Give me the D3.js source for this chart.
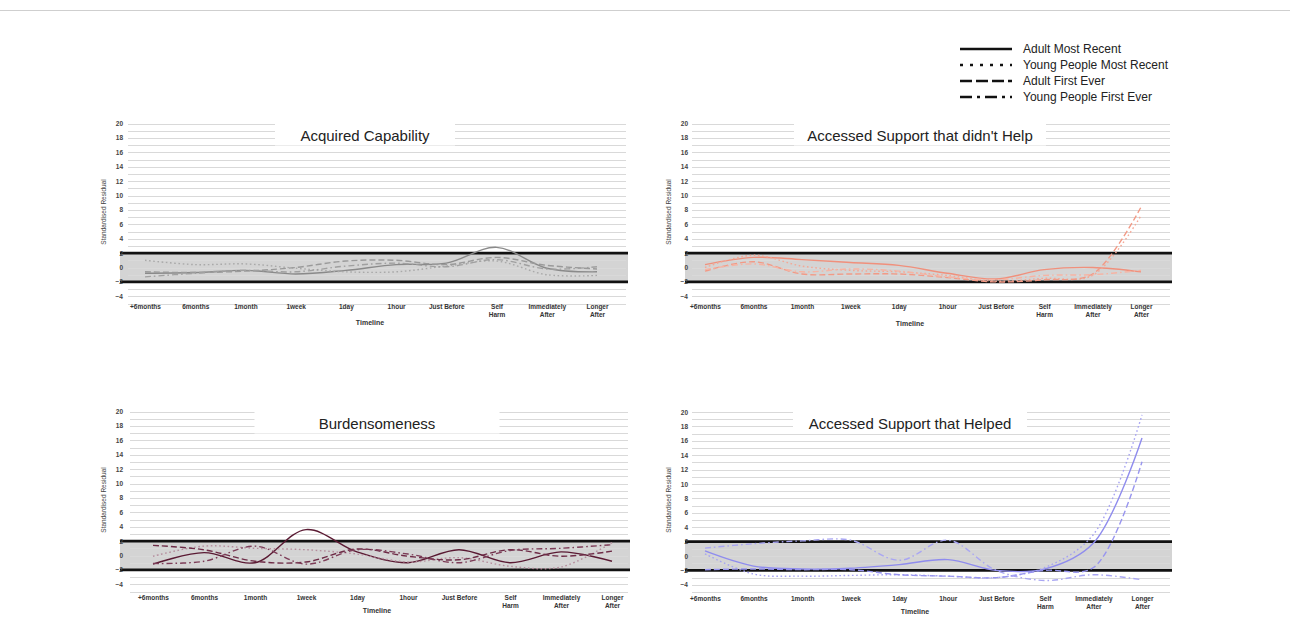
<!DOCTYPE html>
<html><head><meta charset="utf-8">
<script src="https://cdn.jsdelivr.net/npm/d3@7"></script>
<style>
body{margin:0;background:#fff}
svg{display:block}
text{font-family:"Liberation Sans",Arial,sans-serif}
</style>
</head><body>
<svg id="chart" width="1290" height="623"></svg>
<script>
// ---------- data ----------
const categories = ["+6months","6months","1month","1week","1day","1hour","Just Before","Self Harm","Immediately After","Longer After"];
const categoryLines = [["+6months"],["6months"],["1month"],["1week"],["1day"],["1hour"],["Just Before"],["Self","Harm"],["Immediately","After"],["Longer","After"]];
const seriesNames = ["Adult Most Recent","Young People Most Recent","Adult First Ever","Young People First Ever"];
const yTickValues = [-4,-2,0,2,4,6,8,10,12,14,16,18,20];
const gridValues = d3.range(-5, 21, 1);
const bandLimits = [-2, 2];

const acquiredAdultRecent   = [-0.8,-0.7,-0.4,-0.9,-0.4, 0.4, 0.6, 2.8,-0.1,-0.6];
const acquiredYoungRecent   = [ 1.0, 0.4, 0.5,-0.1,-0.6,-0.6, 0.2, 0.9,-1.0,-1.1];
const acquiredAdultFirst    = [-0.6,-0.7,-0.5, 0.0, 0.9, 1.0, 0.4, 1.4, 0.3,-0.2];
const acquiredYoungFirst    = [-1.3,-0.8,-0.4,-0.6, 0.2, 0.6, 0.1, 1.1,-0.2, 0.1];

const noHelpAdultRecent     = [ 0.4, 1.4, 1.1, 0.7, 0.3,-0.8,-1.6,-0.3, 0.0,-0.6];
const noHelpYoungRecent     = [ 0.0, 1.7, 0.2,-0.4,-0.6,-1.1,-1.9,-1.5,-1.1, 7.2];
const noHelpAdultFirst      = [-0.5, 0.8,-0.9,-0.9,-0.9,-1.4,-2.0,-1.7,-0.9, 8.4];
const noHelpYoungFirst      = [-0.3, 0.5,-0.6,-0.2,-0.5,-1.3,-1.7,-1.1,-1.0,-0.4];

const burdenAdultRecent     = [-1.2, 0.4,-1.0, 3.6, 0.5,-1.0, 0.8,-1.0, 0.5,-0.8];
const burdenYoungRecent     = [-0.1, 1.3, 1.0, 0.8, 0.2,-0.9,-0.3,-1.5,-1.6, 1.8];
const burdenAdultFirst      = [ 1.4, 0.8,-0.8,-0.9, 0.9,-0.1,-0.6, 0.8,-0.1, 0.6];
const burdenYoungFirst      = [-1.1,-0.8, 1.3,-1.2, 0.8, 0.2,-1.0, 0.7, 1.0, 1.5];

const helpedAdultRecent     = [ 0.7,-1.4,-1.8,-1.7,-1.2,-0.5,-2.0,-1.8, 1.8,16.4];
const helpedYoungRecent     = [ 0.3,-2.5,-2.8,-2.7,-2.6,-2.8,-3.0,-1.6, 3.0,19.6];
const helpedAdultFirst      = [-1.9,-1.8,-1.9,-1.9,-2.6,-2.8,-3.0,-2.0,-1.6,13.1];
const helpedYoungFirst      = [ 1.1, 1.7, 2.1, 2.2,-0.6, 2.2,-2.0,-3.4,-2.6,-3.3];

// ---------- styling / layout ----------
const dashes = [null, "1.6,2.6", "6,3", "6,3,1.6,3"];
const legendDashes = [null, "3,7", "12,4", "12,5,3,5"];

const panels = [
  {title:"Acquired Capability", series:[acquiredAdultRecent,acquiredYoungRecent,acquiredAdultFirst,acquiredYoungFirst],
   colors:["#8a8a8a","#a9a9a9","#9a9a9a","#a0a0a0"],
   yLab:123, gx0:128, gx1:626, bx0:120, bx1:628, cx0:145, cx1:597, yTop:123.5,
   tx:365, tw:180, lblY:309, tlx:370, tly:325, ytx:106, yty:212},
  {title:"Accessed Support that didn't Help", series:[noHelpAdultRecent,noHelpYoungRecent,noHelpAdultFirst,noHelpYoungFirst],
   colors:["#f0907c","#f4a896","#f29a86","#f6b4a4"],
   yLab:688, gx0:692, gx1:1170, bx0:685, bx1:1172, cx0:705, cx1:1141, yTop:123.5,
   tx:920, tw:252, lblY:309, tlx:910, tly:326, ytx:671, yty:212},
  {title:"Burdensomeness", series:[burdenAdultRecent,burdenYoungRecent,burdenAdultFirst,burdenYoungFirst],
   colors:["#5a1a33","#b58d9d","#6e2c47","#7d3d58"],
   yLab:123, gx0:130, gx1:628, bx0:120, bx1:630, cx0:153, cx1:612, yTop:411.5,
   tx:377, tw:245, lblY:600, tlx:377, tly:613, ytx:106, yty:500},
  {title:"Accessed Support that Helped", series:[helpedAdultRecent,helpedYoungRecent,helpedAdultFirst,helpedYoungFirst],
   colors:["#8f8cee","#a6a3f2","#9895ef","#a9a6f3"],
   yLab:688, gx0:692, gx1:1170, bx0:685, bx1:1172, cx0:705, cx1:1142, yTop:412,
   tx:910, tw:234, lblY:601, tlx:915, tly:614, ytx:671, yty:500}
];
const unit = 7.2;

const svg = d3.select("#chart");

// frame line at top
svg.append("line").attr("x1",0).attr("x2",1290).attr("y1",10.5).attr("y2",10.5)
  .attr("stroke","#cfcfcf").attr("stroke-width",1.2);

panels.forEach(p => {
  const g = svg.append("g");
  const y = d3.scaleLinear().domain([-5, 20]).range([p.yTop + 25*unit, p.yTop]);
  const x = d3.scalePoint().domain(categories).range([p.cx0, p.cx1]);

  // shaded band
  g.append("rect").attr("x", p.bx0).attr("width", p.bx1 - p.bx0)
    .attr("y", y(bandLimits[1])).attr("height", y(bandLimits[0]) - y(bandLimits[1]))
    .attr("fill", "#d4d4d4");

  // grid lines
  g.selectAll("line.grid").data(gridValues).join("line").attr("class","grid")
    .attr("x1", p.gx0).attr("x2", p.gx1)
    .attr("y1", d => Math.round(y(d)) + 0.5).attr("y2", d => Math.round(y(d)) + 0.5)
    .attr("stroke", "#d9d9d9").attr("stroke-width", 1);

  // band limit lines
  g.selectAll("line.band").data(bandLimits).join("line").attr("class","band")
    .attr("x1", p.bx0).attr("x2", p.bx1)
    .attr("y1", d => y(d)).attr("y2", d => y(d))
    .attr("stroke", "#111").attr("stroke-width", 2.6);

  // title box and title
  g.append("rect").attr("x", p.tx - p.tw/2).attr("width", p.tw)
    .attr("y", p.yTop - 3).attr("height", 25).attr("fill", "#fff");
  g.append("text").attr("x", p.tx).attr("y", p.yTop + 17).attr("text-anchor","middle")
    .attr("font-size", 15).attr("fill", "#222").text(p.title);

  // y axis
  const yAxis = d3.axisLeft(y).tickValues(yTickValues).tickSize(0).tickPadding(0);
  const ya = g.append("g").attr("transform", `translate(${p.yLab},0)`).call(yAxis);
  ya.select(".domain").remove();
  ya.selectAll("text").attr("font-size", 6.5).attr("font-weight", "bold")
    .attr("fill", "#444").attr("font-family", "'Liberation Sans',Arial,sans-serif");

  // x axis
  const xAxis = d3.axisBottom(x).tickSize(0).tickPadding(0).tickFormat(() => "");
  const xa = g.append("g").attr("transform", `translate(0,${p.lblY})`).call(xAxis);
  xa.select(".domain").remove();
  xa.selectAll(".tick").each(function(d, i) {
    const t = d3.select(this).append("text").attr("text-anchor","middle")
      .attr("font-size", 6.5).attr("font-weight","bold").attr("fill","#333")
      .attr("font-family","'Liberation Sans',Arial,sans-serif");
    categoryLines[i].forEach((ln, k) => {
      t.append("tspan").attr("x", 0).attr("y", k * 8).text(ln);
    });
  });

  // axis titles
  g.append("text").attr("x", p.tlx).attr("y", p.tly).attr("text-anchor","middle")
    .attr("font-size", 7).attr("font-weight","bold").attr("fill","#333").text("Timeline");
  g.append("text").attr("transform", `translate(${p.ytx},${p.yty}) rotate(-90)`)
    .attr("text-anchor","middle").attr("font-size", 6.5).attr("fill","#444")
    .text("Standardised Residual");

  // series lines
  const line = d3.line().x((d, i) => x(categories[i])).y(d => y(d))
    .curve(d3.curveCatmullRom.alpha(0.5));
  p.series.forEach((s, k) => {
    g.append("path").datum(s).attr("d", line).attr("fill","none")
      .attr("stroke", p.colors[k]).attr("stroke-width", 1.4)
      .attr("stroke-dasharray", dashes[k]);
  });
});

// legend
const lg = svg.append("g");
seriesNames.forEach((name, k) => {
  const yy = 49 + k * 16;
  lg.append("line").attr("x1", 960).attr("x2", 1012).attr("y1", yy).attr("y2", yy)
    .attr("stroke", "#111").attr("stroke-width", 2.6).attr("stroke-dasharray", legendDashes[k]);
  lg.append("text").attr("x", 1023).attr("y", yy + 4).attr("font-size", 12)
    .attr("fill", "#222").text(name);
});
</script>
</body></html>
